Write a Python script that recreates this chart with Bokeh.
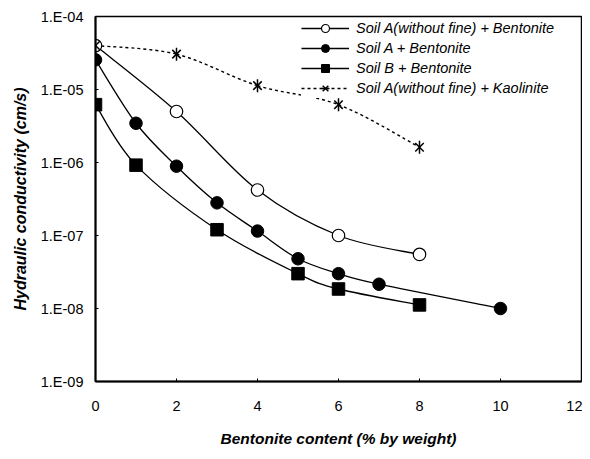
import numpy as np
from bokeh.plotting import figure
from bokeh.models import (FixedTicker, CustomJSTickFormatter, Legend, LegendItem,
                          ColumnDataSource, Range1d)
from bokeh.embed import file_html
from bokeh.resources import INLINE

# ---- data ----
x_wf_bent = [0, 2, 4, 6, 8]
k_wf_bent = [4.0e-5, 5.0e-6, 4.2e-7, 1.0e-7, 5.5e-8]

x_a_bent = [0, 1, 2, 3, 4, 5, 6, 7, 10]
k_a_bent = [2.55e-5, 3.45e-6, 8.9e-7, 2.8e-7, 1.15e-7, 4.8e-8, 3.0e-8, 2.15e-8, 1.0e-8]

x_b_bent = [0, 1, 3, 5, 6, 8]
k_b_bent = [6.2e-6, 9.2e-7, 1.2e-7, 3.0e-8, 1.85e-8, 1.12e-8]

x_wf_kao = [0, 2, 4, 6, 8]
k_wf_kao = [4.0e-5, 3.05e-5, 1.13e-5, 6.2e-6, 1.62e-6]

series_names = ["Soil A(without fine) + Bentonite", "Soil A + Bentonite",
                "Soil B + Bentonite", "Soil A(without fine) + Kaolinite"]

x_ticks = [0, 2, 4, 6, 8, 10, 12]
y_ticks = [1e-9, 1e-8, 1e-7, 1e-6, 1e-5, 1e-4]
y_tick_labels = ["1.E-09", "1.E-08", "1.E-07", "1.E-06", "1.E-05", "1.E-04"]

FONT = "Liberation Sans"


def smooth_bezier(xs, ys):
    """Bezier control points (Catmull-Rom style, in x / log10(y) space)."""
    px = np.asarray(xs, float)
    py = np.log10(np.asarray(ys, float))
    n = len(px)
    d = dict(x0=[], y0=[], x1=[], y1=[], cx0=[], cy0=[], cx1=[], cy1=[])
    for i in range(n - 1):
        a = i - 1 if i > 0 else i
        b = i + 2 if i + 2 < n else i + 1
        c1x = px[i] + (px[i + 1] - px[a]) / 6
        c1y = py[i] + (py[i + 1] - py[a]) / 6
        c2x = px[i + 1] - (px[b] - px[i]) / 6
        c2y = py[i + 1] - (py[b] - py[i]) / 6
        d["x0"].append(px[i]); d["y0"].append(10 ** py[i])
        d["x1"].append(px[i + 1]); d["y1"].append(10 ** py[i + 1])
        d["cx0"].append(c1x); d["cy0"].append(10 ** c1y)
        d["cx1"].append(c2x); d["cy1"].append(10 ** c2y)
    return ColumnDataSource(d)


p = figure(width=582, height=447, y_axis_type="log",
           x_range=Range1d(0, 12), y_range=Range1d(1e-9, 1e-4),
           output_backend="svg", toolbar_location=None,
           min_border_left=95, min_border_right=1, min_border_top=16,
           min_border_bottom=66)
p.frame_width = 486
p.frame_height = 365
p.background_fill_color = "white"
p.border_fill_color = "white"
p.outline_line_color = "black"
p.outline_line_width = 1.5
p.xgrid.grid_line_color = None
p.ygrid.grid_line_color = None

# axes
p.xaxis.ticker = FixedTicker(ticks=x_ticks)
p.yaxis.ticker = FixedTicker(ticks=y_ticks)
p.yaxis.formatter = CustomJSTickFormatter(
    args=dict(tk=y_ticks, lb=y_tick_labels),
    code="""
    for (let i = 0; i < tk.length; i++) {
        if (Math.abs(Math.log10(tk[i]) - Math.log10(tick)) < 1e-6) return lb[i];
    }
    return "";
    """)
for ax in (p.xaxis[0], p.yaxis[0]):
    ax.axis_line_color = "black"
    ax.axis_line_width = 2
    ax.major_tick_in = 3
    ax.major_tick_out = 0
    ax.major_tick_line_color = "black"
    ax.minor_tick_line_color = None
    ax.major_label_text_font = FONT
    ax.major_label_text_font_size = "14.5px"
    ax.major_label_text_color = "black"
    ax.axis_label_text_font = FONT
    ax.axis_label_text_font_style = "bold italic"
    ax.axis_label_text_color = "black"

p.xaxis.axis_label_text_font_size = "15.5px"
p.yaxis.axis_label_text_font_size = "16px"
p.xaxis.major_label_standoff = 19
p.yaxis.major_label_standoff = 12
p.xaxis.axis_label = "Bentonite content (% by weight)"
p.yaxis.axis_label = "Hydraulic conductivity (cm/s)"
p.xaxis.axis_label_standoff = 16
p.yaxis.axis_label_standoff = 9

LW = 1.3

c1 = p.bezier("x0", "y0", "x1", "y1", "cx0", "cy0", "cx1", "cy1",
              source=smooth_bezier(x_wf_bent, k_wf_bent), line_color="black", line_width=LW)
c2 = p.bezier("x0", "y0", "x1", "y1", "cx0", "cy0", "cx1", "cy1",
              source=smooth_bezier(x_a_bent, k_a_bent), line_color="black", line_width=LW)
c3 = p.bezier("x0", "y0", "x1", "y1", "cx0", "cy0", "cx1", "cy1",
              source=smooth_bezier(x_b_bent, k_b_bent), line_color="black", line_width=LW)
c4 = p.bezier("x0", "y0", "x1", "y1", "cx0", "cy0", "cx1", "cy1",
              source=smooth_bezier(x_wf_kao, k_wf_kao), line_color="black", line_width=1.4,
              line_dash="3 3")

m1 = p.scatter(x_wf_bent, k_wf_bent, marker="circle", size=12.5,
               fill_color="white", line_color="black", line_width=1.2)
m2 = p.scatter(x_a_bent, k_a_bent, marker="circle", size=12.5,
               fill_color="black", line_color="black")
m3 = p.scatter(x_b_bent, k_b_bent, marker="square", size=12.5,
               fill_color="black", line_color="black")
m4a = p.scatter(x_wf_kao, k_wf_kao, marker="x", size=12,
                line_color="black", line_width=1.5)
m4b = p.scatter(x_wf_kao, k_wf_kao, marker="dash", size=13, angle=np.pi / 2,
                line_color="black", line_width=1.5)

items = [
    LegendItem(label=series_names[0], renderers=[c1, m1]),
    LegendItem(label=series_names[1], renderers=[c2, m2]),
    LegendItem(label=series_names[2], renderers=[c3, m3]),
    LegendItem(label=series_names[3], renderers=[c4, m4a, m4b]),
]
legend = Legend(items=items, location=(206, 283), orientation="vertical")
legend.border_line_color = None
legend.background_fill_color = "white"
legend.background_fill_alpha = 1.0
legend.padding = 0
legend.margin = 0
legend.spacing = 0
legend.glyph_width = 48
legend.glyph_height = 20
legend.label_height = 20
legend.label_standoff = 7
legend.label_text_font = FONT
legend.label_text_font_style = "italic"
legend.label_text_font_size = "14.5px"
legend.label_text_color = "black"
legend.label_text_baseline = "middle"
p.add_layout(legend, "center")

open("out.html", "w").write(file_html(p, INLINE))
